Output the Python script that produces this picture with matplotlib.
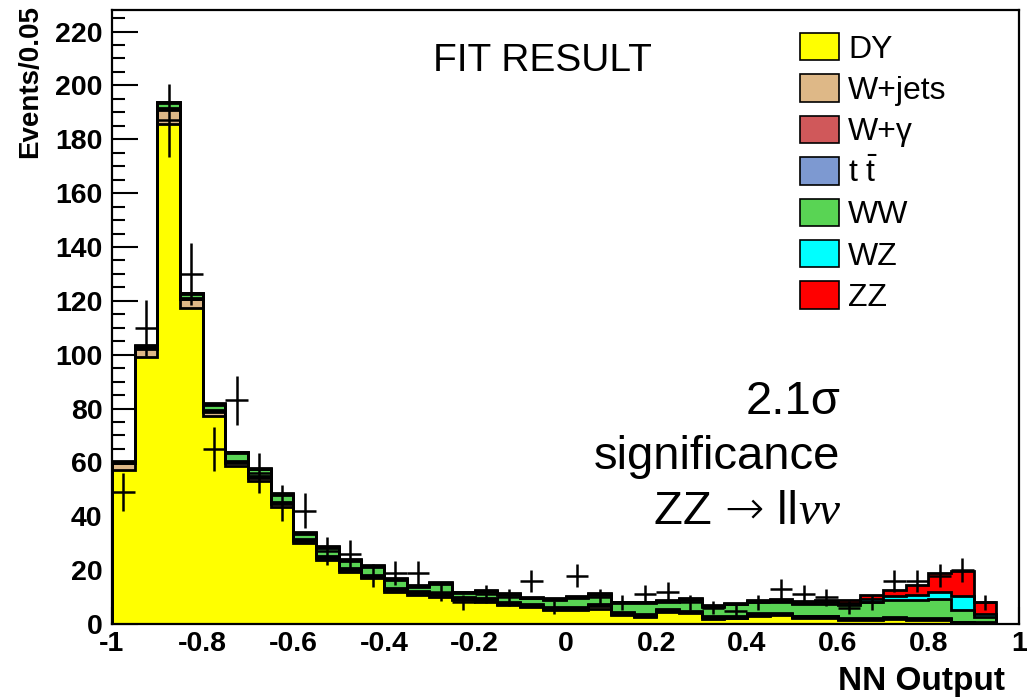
import numpy as np
import matplotlib
matplotlib.use("Agg")
import matplotlib.pyplot as plt
from matplotlib.patches import Patch
from matplotlib.ticker import MultipleLocator, FuncFormatter

# ---- binning: NN output, 0.05 wide bins from -1 to 0.95 ----
bin_edges = np.round(np.arange(-1.0, 0.951, 0.05), 3)

# ---- fitted background / signal templates (events per bin) ----
dy = [57.3, 99.3, 185.5, 117.3, 77.2, 58.7, 53.0, 43.5, 29.9, 23.7,
      19.2, 16.9, 12.0, 10.8, 10.1, 8.9, 8.3, 7.0, 6.2, 5.2,
      5.2, 5.4, 3.3, 2.7, 4.6, 4.0, 1.7, 2.1, 3.1, 3.3,
      2.3, 2.3, 1.5, 1.5, 1.9, 1.5, 1.5, 0.3, 0.2]
wjets = [2.4, 3.0, 5.5, 3.2, 1.6, 1.2, 1.2, 1.2, 1.0, 0.9,
         0.8, 0.7, 0.8, 0.6, 0.6, 0.5, 0.5, 0.5, 0.4, 0.4,
         0.4, 1.3, 0.4, 0.4, 0.4, 0.4, 0.8, 0.3, 0.3, 0.3,
         0.3, 0.3, 0.3, 0.3, 0.3, 0.3, 0.2, 0.2, 0.2]
wgamma = [0.2, 0.2, 0.3, 0.3, 0.3, 0.3, 0.3, 0.3, 0.3, 0.3,
          0.3, 0.3, 0.3, 0.3, 0.3, 0.3, 0.3, 0.3, 0.2, 0.2,
          0.2, 0.2, 0.2, 0.2, 0.2, 0.2, 0.2, 0.2, 0.2, 0.2,
          0.2, 0.2, 0.2, 0.2, 0.2, 0.2, 0.2, 0.1, 0.1]
ttbar = [0.1, 0.2, 0.3, 0.3, 0.3, 0.3, 0.3, 0.3, 0.3, 0.4,
         0.4, 0.4, 0.4, 0.4, 0.5, 0.4, 0.5, 0.5, 0.5, 0.5,
         0.5, 0.5, 0.5, 0.5, 0.4, 0.4, 0.4, 0.4, 0.4, 0.3,
         0.3, 0.3, 0.3, 0.3, 0.2, 0.2, 0.2, 0.1, 0.1]
ww = [0.2, 0.6, 1.8, 1.4, 2.0, 2.9, 2.6, 2.6, 2.1, 3.0,
      2.7, 3.0, 2.8, 1.8, 3.4, 1.3, 2.4, 2.5, 2.2, 2.6,
      3.5, 3.5, 3.3, 3.9, 2.7, 3.9, 3.3, 4.3, 4.2, 3.9,
      4.3, 4.3, 4.8, 6.0, 6.4, 6.8, 7.2, 4.6, 1.9]
wz = [0.1, 0.1, 0.3, 0.3, 0.3, 0.3, 0.3, 0.3, 0.3, 0.3,
      0.3, 0.3, 0.3, 0.3, 0.3, 0.3, 0.3, 0.3, 0.3, 0.3,
      0.3, 0.3, 0.3, 0.3, 0.3, 0.3, 0.3, 0.3, 0.3, 0.4,
      0.5, 0.8, 0.8, 0.9, 1.5, 1.8, 2.7, 5.0, 1.2]
zz = [0.1, 0.1, 0.3, 0.2, 0.3, 0.3, 0.3, 0.3, 0.3, 0.3,
      0.3, 0.3, 0.3, 0.3, 0.3, 0.3, 0.3, 0.3, 0.3, 0.3,
      0.3, 0.3, 0.3, 0.3, 0.3, 0.3, 0.3, 0.3, 0.4, 0.7,
      0.7, 0.7, 1.0, 1.6, 2.1, 3.7, 7.0, 9.5, 4.6]

# ---- observed data (events per bin) ----
data = [49, 110, 187, 130, 65, 83, 56, 45, 42, 27,
        26, 18, 19, 19, 12, 8, 11, 10, 16, 6,
        18, 10, 8, 11, 12, 8, 6, 5, 8, 13,
        11, 10, 6, 8, 16, 16, 18, 20, 8]

labels = ["DY", "W+jets", "W+\u03b3", r"t $\bar{\mathrm{t}}$", "WW", "WZ", "ZZ"]
colors = ["#FFFF00", "#DEB887", "#D0585A", "#7D99D1", "#59D454", "#00FFFF", "#FF0000"]
components = [dy, wjets, wgamma, ttbar, ww, wz, zz]

plt.rcParams["font.family"] = ["Liberation Sans", "DejaVu Sans"]
plt.rcParams["mathtext.fontset"] = "custom"
plt.rcParams["mathtext.rm"] = "Liberation Sans"
plt.rcParams["mathtext.it"] = "Liberation Sans:italic"

W, H = 1033, 700
fig = plt.figure(figsize=(W / 100, H / 100), dpi=100)
ax = fig.add_axes([112 / W, 1 - 624 / H, (1019 - 112) / W, (624 - 10) / H])

# stacked histogram: draw each cumulative sum from the top down, ROOT style
cum = np.cumsum(np.array(components, dtype=float), axis=0)
for k in range(len(components) - 1, -1, -1):
    ax.stairs(cum[k], bin_edges, baseline=0, fill=True, color=colors[k],
              linewidth=0, zorder=2)
    ax.stairs(cum[k], bin_edges, baseline=0, fill=False, color="black",
              linewidth=2.0, zorder=3)

# data crosses with Poisson errors
centers = 0.5 * (bin_edges[:-1] + bin_edges[1:])
data_arr = np.array(data, dtype=float)
ax.errorbar(centers, data_arr, yerr=np.sqrt(data_arr), xerr=0.025, fmt="none",
            ecolor="black", elinewidth=1.8, capsize=0, zorder=5)

ax.set_xlim(-1, 1)
ax.set_ylim(0, 228)

for sp in ax.spines.values():
    sp.set_linewidth(1.6)

ax.xaxis.set_major_locator(MultipleLocator(0.2))
ax.xaxis.set_minor_locator(MultipleLocator(0.05))
ax.yaxis.set_major_locator(MultipleLocator(20))
ax.yaxis.set_minor_locator(MultipleLocator(5))
ax.xaxis.set_major_formatter(FuncFormatter(lambda v, p: "%g" % round(v, 2)))
ax.tick_params(axis="x", which="major", direction="in", length=12, width=1.5,
               labelsize=20.5, pad=5, top=False)
ax.tick_params(axis="x", which="minor", direction="in", length=6, width=1.5, top=False)
ax.tick_params(axis="y", which="major", direction="in", length=19, width=1.5,
               labelsize=20.5, pad=7, right=False)
ax.tick_params(axis="y", which="minor", direction="in", length=9.5, width=1.5, right=False)
for lab in ax.get_xticklabels() + ax.get_yticklabels():
    lab.set_fontweight("bold")

fig.text(1005 / W, 1 - 690 / H, "NN Output", ha="right", va="baseline",
         fontsize=24, fontweight="bold")
fig.text(30 / W, 1 - 5 / H, "Events/0.05", ha="center", va="top",
         rotation=90, fontsize=20, fontweight="bold")

fig.text(542 / W, 1 - 71 / H, "FIT RESULT", ha="center", va="baseline", fontsize=28)

# significance annotation, right aligned
xr = 840 / W
fs = 34
fig.text(xr, 1 - 414 / H, "2.1\u03c3", ha="right", va="baseline", fontsize=fs)
fig.text(xr, 1 - 469 / H, "significance", ha="right", va="baseline", fontsize=fs)
yb = 1 - 524 / H
fig.canvas.draw()
renderer = fig.canvas.get_renderer()
x_right = xr
pieces = [("\u03bd\u03bd", dict(family=["Liberation Serif", "DejaVu Serif"], style="italic")),
          (" ll", {}),
          ("\u2192", dict(family=["DejaVu Sans"], fontweight="light")),
          ("ZZ ", {})]
for txt, kw in pieces:
    t = fig.text(x_right, yb, txt, ha="right", va="baseline", fontsize=fs, **kw)
    x_right = t.get_window_extent(renderer).x0 / W

handles = [Patch(facecolor=c, edgecolor="black", linewidth=1.2) for c in colors]
ax.legend(handles, labels, loc="upper left", bbox_to_anchor=(800 / W, 1 - 33 / H),
          bbox_transform=fig.transFigure, frameon=False, fontsize=23,
          handlelength=1.22, handleheight=0.94, handletextpad=0.28,
          labelspacing=0.305, borderpad=0, borderaxespad=0)

fig.savefig("out.png", dpi=100)
